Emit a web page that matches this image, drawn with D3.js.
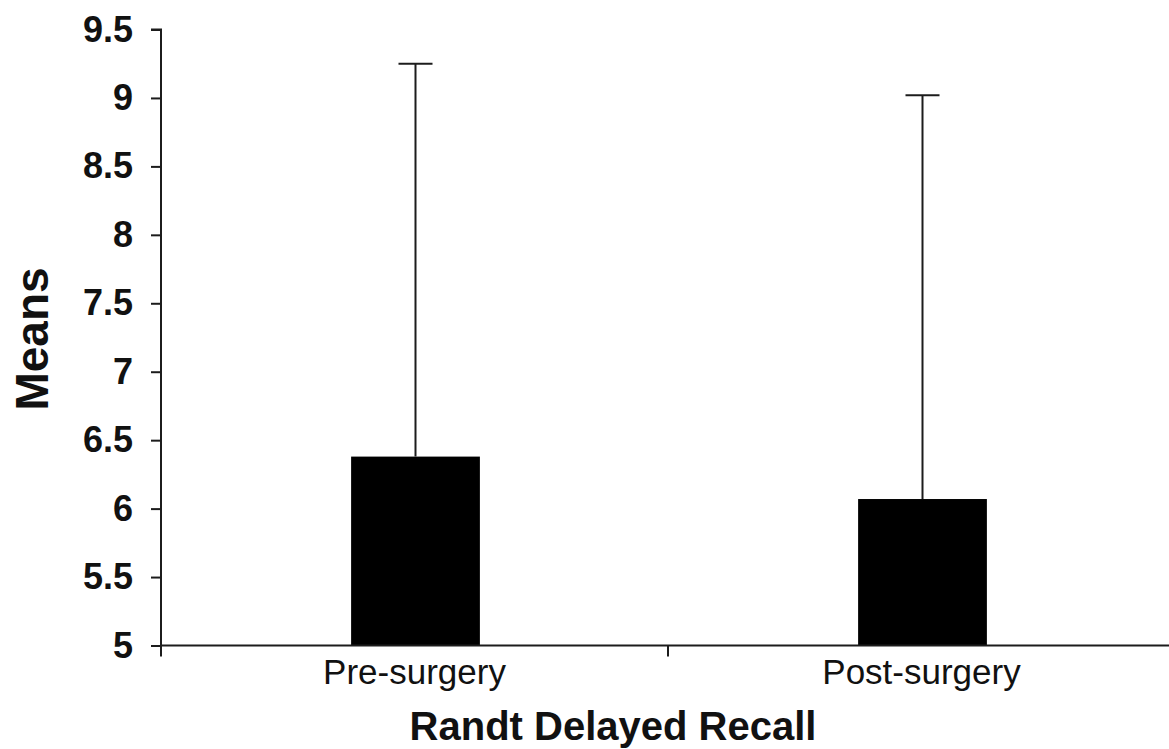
<!DOCTYPE html>
<html>
<head>
<meta charset="utf-8">
<script src="https://cdn.jsdelivr.net/npm/d3@7"></script>
<style>
  html, body { margin: 0; padding: 0; background: #fff; }
  svg { display: block; font-family: "Liberation Sans", Arial, sans-serif; }
</style>
</head>
<body>
<svg id="chart" width="1169" height="749"></svg>
<script>
// Randt Delayed Recall: group means with upper error bars
const categories = ["Pre-surgery", "Post-surgery"];
const means = [6.38, 6.07];
const errors = [2.87, 2.95];
const yTicks = [5, 5.5, 6, 6.5, 7, 7.5, 8, 8.5, 9, 9.5];
const yTickLabels = ["5", "5.5", "6", "6.5", "7", "7.5", "8", "8.5", "9", "9.5"];

const svg = d3.select("#chart");
const plotLeft = 161, plotRight = 1175, plotTop = 29.5, plotBottom = 645.5;

const x = d3.scaleBand().domain(categories).range([plotLeft, plotRight]).padding(0);
const y = d3.scaleLinear().domain([5, 9.5]).range([plotBottom, plotTop]);

const ink = "#1c1c1c";
const barW = x.bandwidth() * 0.254;

// bars
svg.append("g").selectAll("rect")
  .data(categories)
  .join("rect")
  .attr("x", (d) => x(d) + x.bandwidth() / 2 - barW / 2 + 1)
  .attr("y", (d, i) => y(means[i]))
  .attr("width", barW)
  .attr("height", (d, i) => y(5) - y(means[i]))
  .attr("fill", "#000");

// error bars (upper only)
const capW = 34;
const eb = svg.append("g").attr("stroke", ink).attr("stroke-width", 2);
categories.forEach((c, i) => {
  const cx = x(c) + x.bandwidth() / 2 + 1;
  eb.append("line")
    .attr("x1", cx).attr("x2", cx)
    .attr("y1", y(means[i])).attr("y2", y(means[i] + errors[i]));
  eb.append("line")
    .attr("x1", cx - capW / 2).attr("x2", cx + capW / 2)
    .attr("y1", y(means[i] + errors[i])).attr("y2", y(means[i] + errors[i]));
});

// y axis
const yAxis = d3.axisLeft(y)
  .tickValues(yTicks)
  .tickFormat((d, i) => yTickLabels[i])
  .tickSize(10)
  .tickPadding(18);
const gy = svg.append("g").attr("transform", `translate(${plotLeft},0)`).call(yAxis);
gy.select(".domain").attr("stroke", ink).attr("stroke-width", 2)
  .attr("d", `M-10,${plotTop}H0V${plotBottom}`);
gy.selectAll(".tick line").attr("stroke", ink).attr("stroke-width", 2);
gy.selectAll(".tick text")
  .attr("fill", "#111")
  .attr("font-size", 36)
  .attr("font-weight", "bold")
  .attr("font-family", "'Liberation Sans', Arial, sans-serif");

// x axis
const xAxis = d3.axisBottom(x).tickSize(0).tickPadding(13);
const gx = svg.append("g").attr("transform", `translate(0,${plotBottom})`).call(xAxis);
gx.select(".domain").attr("stroke", ink).attr("stroke-width", 2)
  .attr("d", `M${plotLeft},0H${plotRight}`);
gx.selectAll(".tick text")
  .attr("fill", "#111")
  .attr("font-size", 35)
  .attr("dy", "0.72em")
  .attr("font-family", "'Liberation Sans', Arial, sans-serif");

// category boundary ticks
const bounds = [plotLeft, plotLeft + x.bandwidth(), plotRight];
svg.append("g").selectAll("line")
  .data(bounds)
  .join("line")
  .attr("x1", (d) => d).attr("x2", (d) => d)
  .attr("y1", plotBottom).attr("y2", plotBottom + 11)
  .attr("stroke", ink).attr("stroke-width", 2);

// axis titles
svg.append("text")
  .attr("x", 613).attr("y", 740)
  .attr("text-anchor", "middle")
  .attr("font-size", 40)
  .attr("font-weight", "bold")
  .attr("fill", "#111")
  .text("Randt Delayed Recall");

svg.append("text")
  .attr("transform", "translate(48,339) rotate(-90)")
  .attr("text-anchor", "middle")
  .attr("font-size", 46)
  .attr("font-weight", "bold")
  .attr("fill", "#111")
  .text("Means");
</script>
</body>
</html>
